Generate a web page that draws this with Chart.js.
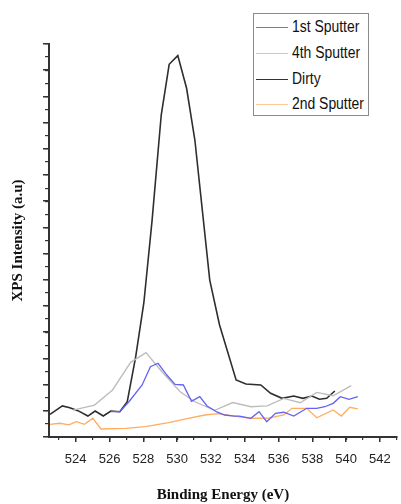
<!DOCTYPE html>
<html>
<head>
<meta charset="utf-8">
<script src="https://cdn.jsdelivr.net/npm/chart.js@4/dist/chart.umd.min.js"></script>
<style>
  html, body { margin: 0; padding: 0; background: #fff; }
  #wrap { position: relative; width: 401px; height: 504px; }
  #legend { position: absolute; left: 253px; top: 13px; width: 116px; height: 103px;
    border: 1px solid #8a8a8a; background: #fff; box-sizing: border-box;
    font-family: "Liberation Sans", Arial, sans-serif; font-size: 16px; color: #111; }
  .row { position: absolute; left: 0; height: 20px; line-height: 20px; white-space: nowrap; }
  .sw { position: absolute; left: 2px; top: 10px; width: 32px; height: 1px; }
  .lb { position: absolute; left: 38px; top: 0; transform: scaleX(0.87); transform-origin: left center; }
</style>
</head>
<body>
<div id="wrap">
  <canvas id="c" width="401" height="504"></canvas>
  <div id="legend"></div>
</div>
<script>
// ---- data ----
const seriesNames = ["1st Sputter", "4th Sputter", "Dirty", "2nd Sputter"];

const sputter1X = [526.08,526.61,527.15,527.93,528.42,528.87,529.39,529.88,530.37,530.85,531.34,531.77,532.35,532.81,533.39,533.68,534.36,534.85,535.30,535.82,536.31,536.90,537.67,538.26,538.74,539.23,539.66,540.17,540.69];
const sputter1Y = [1.93,1.93,2.69,3.97,5.37,5.63,4.73,4.01,3.97,2.73,3.08,2.37,1.91,1.68,1.60,1.60,1.43,1.93,1.17,1.81,1.89,1.60,2.19,2.19,2.31,2.57,3.08,2.88,3.08];

const sputter4X = [523.84,525.11,526.18,527.25,528.16,529.10,530.18,531.05,532.22,533.29,534.36,535.33,536.31,537.28,538.26,539.23,540.30];
const sputter4Y = [2.06,2.44,3.59,5.70,6.44,4.98,3.46,2.69,2.04,2.63,2.31,2.37,2.95,2.62,3.41,3.15,3.92];

const dirtyX = [522.48,523.21,523.65,524.13,524.72,525.15,525.63,526.08,526.61,527.05,527.55,528.03,528.52,529.06,529.53,530.04,530.56,531.05,531.93,532.51,533.49,534.07,534.95,535.53,536.21,536.90,537.44,537.97,538.42,538.85,539.33];
const dirtyY = [1.73,2.37,2.24,2.01,1.60,1.98,1.60,1.98,1.93,2.69,6.13,10.23,16.56,24.58,28.45,29.11,26.62,22.67,11.98,8.55,4.35,4.05,3.97,3.34,2.95,3.13,2.95,3.13,2.88,2.95,3.51];

const sputter2X = [522.48,523.06,523.60,524.04,524.52,525.01,525.50,526.96,528.13,529.49,530.66,531.64,532.41,533.39,534.36,535.33,536.31,536.80,537.67,538.26,539.23,539.72,540.21,540.69];
const sputter2Y = [0.97,1.05,0.92,1.17,0.97,1.43,0.61,0.66,0.79,1.09,1.43,1.68,1.79,1.60,1.43,1.43,1.68,2.19,2.19,1.47,2.06,1.60,2.27,2.14];

const xTickStep = 2;           // labelled ticks: 524 ... 542
const xRange = [522.42, 543];
const yRange = [0, 30];

// ---- build ----
function pts(xs, ys) { return xs.map((x, i) => ({ x: x, y: ys[i] })); }
const colors = ["#6262f6", "#bcbcbc", "#2e2e2e", "#ffad5e"];
const legendColors = ["#6f6fff", "#c8c8c8", "#333333", "#ffc890"];
const widths = [1.3, 1.3, 1.6, 1.3];
const seriesData = [pts(sputter1X, sputter1Y), pts(sputter4X, sputter4Y), pts(dirtyX, dirtyY), pts(sputter2X, sputter2Y)];

const datasets = seriesNames.map((n, i) => ({
  label: n, data: seriesData[i], borderColor: colors[i], backgroundColor: colors[i],
  borderWidth: widths[i], pointRadius: 0, tension: 0, fill: false
}));

const axisColor = "#333";
new Chart(document.getElementById("c"), {
  type: "line",
  data: { datasets: datasets },
  options: {
    responsive: false, animation: false, devicePixelRatio: 1,
    layout: { padding: { top: 44, left: 0, right: 0, bottom: 0 } },
    plugins: { legend: { display: false }, tooltip: { enabled: false } },
    scales: {
      x: {
        type: "linear", position: "bottom", weight: 10,
        min: xRange[0], max: xRange[1],
        border: { display: true, color: axisColor, width: 2 },
        grid: { drawOnChartArea: false, drawTicks: true, tickLength: 5, color: axisColor, lineWidth: 1.5 },
        ticks: { stepSize: xTickStep, includeBounds: false, autoSkip: false, maxRotation: 0, padding: 10,
          color: "#222", font: { family: "Liberation Sans", size: 13 } },
        title: { display: true, text: "Binding Energy (eV)", color: "#111", padding: { top: 1, bottom: 0 },
          font: { family: "Liberation Serif", size: 15, weight: "bold" } },
        afterFit: s => { s.height = 67; }
      },
      xMinor: {
        type: "linear", position: "bottom", weight: 0,
        min: xRange[0], max: xRange[1],
        border: { display: false },
        grid: { drawOnChartArea: false, drawTicks: true, tickLength: 3, color: axisColor, lineWidth: 1.2 },
        ticks: { stepSize: 1, includeBounds: false, autoSkip: false, display: false },
        afterFit: s => { s.height = 0; }
      },
      y: {
        type: "linear", position: "left", weight: 10,
        min: yRange[0], max: yRange[1],
        border: { display: true, color: axisColor, width: 2 },
        grid: { drawOnChartArea: false, drawTicks: true, tickLength: 6, color: axisColor, lineWidth: 1.5 },
        ticks: { stepSize: 2, includeBounds: false, display: false },
        title: { display: true, text: "XPS Intensity (a.u)", color: "#111", padding: { top: 9, bottom: 0 },
          font: { family: "Liberation Serif", size: 15, weight: "bold" } },
        afterFit: s => { s.width = 49; }
      },
      yMinor: {
        type: "linear", position: "left", weight: 0,
        min: yRange[0], max: yRange[1],
        border: { display: false },
        grid: { drawOnChartArea: false, drawTicks: true, tickLength: 4, color: axisColor, lineWidth: 1.2 },
        ticks: { stepSize: 1, includeBounds: false, display: false },
        afterFit: s => { s.width = 0; }
      }
    }
  }
});

// legend overlay
const lg = document.getElementById("legend");
const rowTops = [3, 29, 55, 80];
seriesNames.forEach((n, i) => {
  const r = document.createElement("div");
  r.className = "row"; r.style.top = rowTops[i] + "px";
  r.innerHTML = '<span class="sw" style="background:' + legendColors[i] + '"></span><span class="lb">' + n + '</span>';
  lg.appendChild(r);
});
</script>
</body>
</html>
